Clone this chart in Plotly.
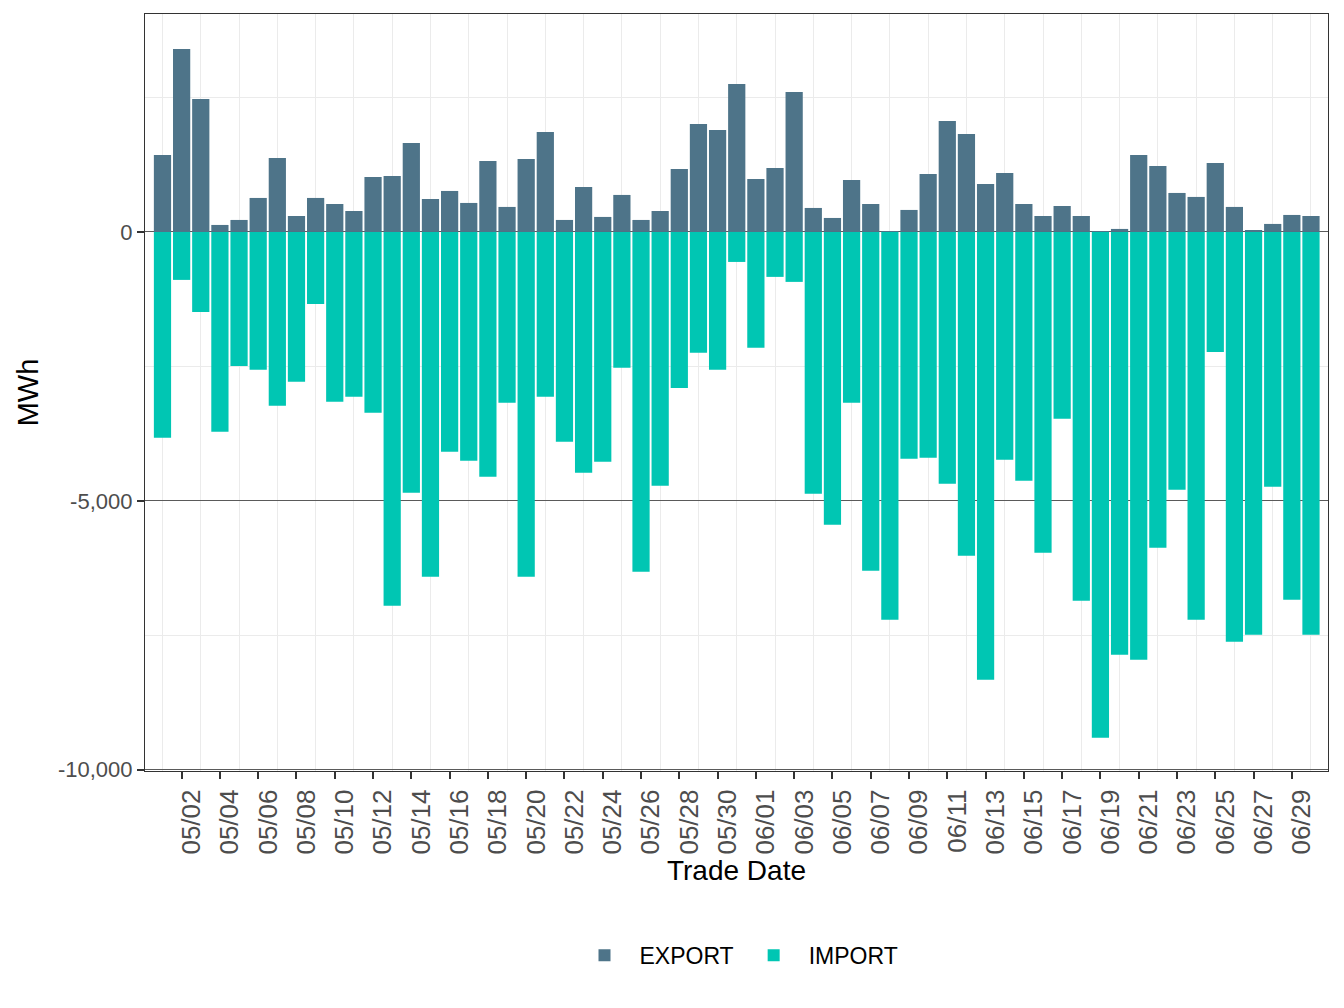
import pandas as pd
import plotly.graph_objects as go

dates = pd.date_range("2023-05-01", "2023-06-30", freq="D").strftime("%Y-%m-%d").tolist()

export_mwh = [
    1431, 3402, 2472, 130, 223, 632, 1376, 297, 632, 520,
    390, 1022, 1041, 1654, 613, 762, 539, 1320, 465, 1357,
    1859, 223, 836, 279, 688, 223, 390, 1171, 2008, 1896,
    2751,
    985, 1190, 2603, 446, 260, 967, 520, 10, 409, 1078,
    2063, 1822, 892, 1097, 520, 297, 483, 297, 10, 56,
    1431, 1227, 725, 651, 1283, 465, 19, 149, 316, 297,
]

import_mwh = [
    -3829, -892, -1487, -3718, -2491, -2565, -3234, -2788, -1338, -3160,
    -3067, -3364, -6952, -4851, -6413, -4089, -4257, -4554, -3178, -6413,
    -3067, -3903, -4480, -4275, -2528, -6320, -4721, -2900, -2249, -2565,
    -558,
    -2156, -836, -929, -4870, -5446, -3178, -6301, -7212, -4220, -4201,
    -4684, -6023, -8328, -4238, -4628, -5967, -3476, -6859, -9406, -7863,
    -7956, -5874, -4796, -7212, -2231, -7622, -7491, -4740, -6841, -7491,
]

x_tickvals = dates[1::2]          # every second day starting 05/02
x_gridvals = dates[0::2]          # grid lines between ticks
y_tickvals = [-10000, -5000, 0]
y_ticktext = ["-10,000", "-5,000", "0"]
y_minor_vals = [-7500, -2500, 2500]

EXPORT_COLOR = "#4E7489"
IMPORT_COLOR = "#00C6B3"
FONT = "Liberation Sans, Arial, sans-serif"

fig = go.Figure()
fig.add_trace(go.Bar(x=dates, y=export_mwh, name="EXPORT", marker_color=EXPORT_COLOR,
                     marker_line_width=0))
fig.add_trace(go.Bar(x=dates, y=import_mwh, name="IMPORT", marker_color=IMPORT_COLOR,
                     marker_line_width=0))

fig.update_layout(
    width=1328, height=992,
    barmode="relative", bargap=0.1,
    paper_bgcolor="white", plot_bgcolor="white",
    margin=dict(l=137, r=8, t=6, b=229),
    font=dict(family=FONT, color="#000000"),
    legend=dict(orientation="h", x=0.5, xanchor="center", y=-0.215, yanchor="top",
                font=dict(size=23, family=FONT, color="#000000"),
                itemwidth=60, traceorder="normal"),
)

fig.update_xaxes(
    type="date",
    range=["2023-04-30 02:05", "2023-06-30 21:20"],
    tickvals=x_tickvals, tickformat="%m/%d",
    tickangle=-90, tickfont=dict(size=26, color="#4D4D4D", family=FONT),
    ticklabelshift=10,
    ticks="outside", ticklen=7, tickwidth=1.5, tickcolor="#333333",
    showgrid=False,
    minor=dict(tickvals=x_gridvals, showgrid=True,
               gridcolor="#EBEBEB", gridwidth=1.2, ticks=""),
    showline=True, linecolor="#333333", linewidth=1.2, mirror=True,
    zeroline=False,
    title=dict(text="Trade Date", font=dict(size=28, family=FONT, color="#000000"), standoff=6),
)

fig.update_yaxes(
    range=[-10025, 4053],
    tickvals=y_tickvals, ticktext=y_ticktext,
    tickfont=dict(size=22, color="#4D4D4D", family=FONT),
    ticks="outside", ticklen=7, tickwidth=1.5, tickcolor="#333333",
    showgrid=True, gridcolor="#5A5A5A", gridwidth=0.8,
    minor=dict(tickvals=y_minor_vals, showgrid=True, gridcolor="#EBEBEB",
               gridwidth=1.2, ticks=""),
    showline=True, linecolor="#333333", linewidth=1.2, mirror=True,
    zeroline=False,
    title=dict(text="MWh", font=dict(size=29, family=FONT, color="#000000"), standoff=10),
)

fig.write_html("out.html")
